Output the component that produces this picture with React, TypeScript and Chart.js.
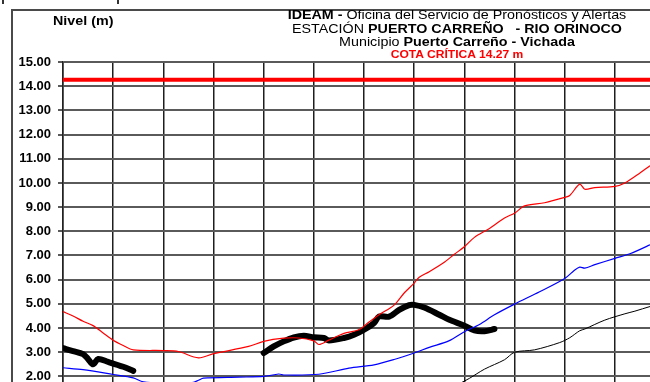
import React, { useEffect, useRef } from "react";
import { Chart, registerables } from "chart.js";

Chart.register(...registerables);

// ---- Axis ranges and ticks ----
const X_MIN = 0;
const X_MAX = 117; // days (vertical grid every 10 days)
const Y_MIN = 1.77;
const Y_MAX = 15;
const yTickValues = [2, 3, 4, 5, 6, 7, 8, 9, 10, 11, 12, 13, 14, 15];
const xGridStep = 10;

// ---- Critical level ----
const criticalLevel = 14.27;
const criticalDays = [X_MIN, X_MAX];

// ---- Observed level (thick black) ----
const observedDays = [0, 2, 4, 5, 6, 7, 9, 12, 14, 27, 40, 42, 44, 46, 48, 50, 52, 53, 56, 58, 60, 62, 63, 65, 67, 69, 70, 72, 75, 77, 80, 82, 84, 86];
const observedLevels = [3.17, 3.05, 2.92, 2.72, 2.5, 2.72, 2.6, 2.4, 2.23, null, 2.97, 3.24, 3.45, 3.61, 3.68, 3.62, 3.59, 3.49, 3.59, 3.72, 3.93, 4.21, 4.48, 4.47, 4.75, 4.95, 4.96, 4.85, 4.55, 4.34, 4.1, 3.9, 3.87, 3.96];

// ---- Upper forecast (red) ----
const upperDays = [0, 2, 4, 6, 8, 10, 12, 14, 20, 23, 27, 30, 37, 40, 44, 47, 50, 51, 53, 56, 59, 61, 63, 66, 68, 70, 71, 73, 76, 78, 80, 82, 85, 88, 90, 92, 96, 100, 101, 103, 104, 106, 110, 112, 115, 117, 118];
const upperLevels = [4.68, 4.5, 4.28, 4.1, 3.8, 3.5, 3.28, 3.1, 3.07, 3.03, 2.77, 2.94, 3.24, 3.45, 3.58, 3.59, 3.47, 3.32, 3.5, 3.78, 3.93, 4.25, 4.55, 4.95, 5.45, 5.86, 6.1, 6.33, 6.72, 7.05, 7.36, 7.75, 8.12, 8.55, 8.75, 9.05, 9.18, 9.4, 9.48, 9.95, 9.74, 9.81, 9.86, 10.0, 10.41, 10.71, 10.85];

// ---- Middle forecast (blue) ----
const middleDays = [0, 4, 10, 14, 16, 22, 26, 27, 28, 35, 40, 43, 44, 51, 57, 62, 66, 70, 73, 77, 80, 83, 86, 90, 95, 100, 102, 103, 104, 106, 110, 113, 117, 118];
const middleLevels = [2.36, 2.28, 2.08, 1.94, 1.78, 1.7, 1.76, 1.84, 1.93, 1.97, 2.0, 2.1, 2.06, 2.09, 2.34, 2.48, 2.7, 2.97, 3.2, 3.48, 3.85, 4.15, 4.55, 4.99, 5.5, 6.05, 6.4, 6.52, 6.48, 6.62, 6.88, 7.07, 7.44, 7.55];

// ---- Lower forecast (thin black) ----
const lowerDays = [79, 81, 84, 88, 90, 94, 99, 101, 103, 104, 108, 112, 114, 117, 118];
const lowerLevels = [1.7, 1.92, 2.3, 2.69, 3.0, 3.1, 3.4, 3.6, 3.89, 3.96, 4.33, 4.59, 4.7, 4.89, 4.93];

const FONT = "'Liberation Sans', Arial, Helvetica, sans-serif";

function toPoints(days: number[], values: (number | null)[]) {
  return days.map((d, i) => ({ x: d, y: values[i] }));
}

export default function App() {
  const canvasRef = useRef<HTMLCanvasElement | null>(null);

  useEffect(() => {
    if (!canvasRef.current) return;
    const chart = new Chart(canvasRef.current, {
      type: "line",
      data: {
        datasets: [
          {
            label: "Cota crítica",
            data: toPoints(criticalDays, [criticalLevel, criticalLevel]),
            borderColor: "#ff0000",
            borderWidth: 4,
            pointRadius: 0,
            order: 0,
          },
          {
            label: "Pronóstico superior",
            data: toPoints(upperDays, upperLevels),
            borderColor: "#ff0000",
            borderWidth: 1.2,
            pointRadius: 0,
            tension: 0.3,
            order: 1,
          },
          {
            label: "Pronóstico medio",
            data: toPoints(middleDays, middleLevels),
            borderColor: "#0000ff",
            borderWidth: 1.2,
            pointRadius: 0,
            tension: 0.3,
            order: 2,
          },
          {
            label: "Pronóstico inferior",
            data: toPoints(lowerDays, lowerLevels),
            borderColor: "#000000",
            borderWidth: 1,
            pointRadius: 0,
            tension: 0.3,
            order: 3,
          },
          {
            label: "Nivel observado",
            data: toPoints(observedDays, observedLevels),
            borderColor: "#000000",
            borderWidth: 6,
            pointRadius: 0,
            tension: 0.3,
            spanGaps: false,
            borderJoinStyle: "round",
            borderCapStyle: "round",
            order: 4,
          },
        ],
      },
      options: {
        animation: false,
        responsive: false,
        layout: { padding: { top: 62, left: 0, right: 0, bottom: 0 } },
        plugins: { legend: { display: false }, tooltip: { enabled: false }, title: { display: false } },
        scales: {
          x: {
            type: "linear",
            min: X_MIN,
            max: X_MAX,
            ticks: { display: false, stepSize: xGridStep },
            grid: { color: "#1e1e1e", lineWidth: 1.5, drawTicks: false },
            border: { display: false },
            afterBuildTicks: (s: any) => {
              s.ticks = s.ticks.filter((t: any) => t.value % xGridStep === 0);
            },
            afterFit: (s: any) => {
              s.height = 0;
            },
          },
          y: {
            type: "linear",
            min: Y_MIN,
            max: Y_MAX,
            ticks: {
              color: "#000",
              padding: 7,
              font: { family: FONT, size: 13, weight: "bold" },
              callback: (v: any) => Number(v).toFixed(2),
            },
            grid: { color: "#5a5a5a", lineWidth: 2, tickLength: 5 },
            border: { display: true, color: "#222", width: 1.5 },
            afterBuildTicks: (s: any) => {
              s.ticks = yTickValues.map((v) => ({ value: v }));
            },
            afterFit: (s: any) => {
              s.width = 63;
              s.paddingTop = 0;
              s.paddingBottom = 0;
            },
          },
        },
      },
    } as any);
    return () => chart.destroy();
  }, []);

  const lineStyle: React.CSSProperties = {
    position: "absolute",
    left: 257,
    width: 400,
    textAlign: "center",
    fontFamily: FONT,
    fontSize: 13,
    lineHeight: "14px",
    color: "#000",
    whiteSpace: "pre",
    transform: "scaleX(1.1)",
    transformOrigin: "center",
  };

  return (
    <div style={{ position: "absolute", left: 0, top: 0, width: 650, height: 382, overflow: "hidden", background: "#fff" }}>
      <div style={{ position: "absolute", left: 11, top: 9, width: 637, height: 371, borderLeft: "2px solid #4a4a4a", borderTop: "2px solid #4a4a4a" }} />
      <div style={{ position: "absolute", left: 2, top: 0, width: 2, height: 4, background: "#333" }} />
      <div style={{ position: "absolute", left: 117, top: 0, width: 2, height: 4, background: "#333" }} />
      <canvas ref={canvasRef} width={650} height={382} style={{ position: "absolute", left: 0, top: 0 }} />
      <div style={{ position: "absolute", left: 53, top: 14, fontFamily: FONT, fontSize: 13, fontWeight: "bold", lineHeight: "14px", transform: "scaleX(1.1)", transformOrigin: "left" }}>Nivel (m)</div>
      <div style={{ ...lineStyle, top: 8 }}>
        <b>IDEAM - </b>Oficina del Servicio de Pronósticos y Alertas
      </div>
      <div style={{ ...lineStyle, top: 22 }}>
        ESTACIÓN <b>PUERTO CARREÑO   - RIO ORINOCO</b>
      </div>
      <div style={{ ...lineStyle, top: 35 }}>
        Municipio <b>Puerto Carreño - Vichada</b>
      </div>
      <div style={{ ...lineStyle, top: 48, fontSize: 11, lineHeight: "12px", fontWeight: "bold", color: "#ff0000" }}>
        COTA CRÍTICA 14.27 m
      </div>
    </div>
  );
}
